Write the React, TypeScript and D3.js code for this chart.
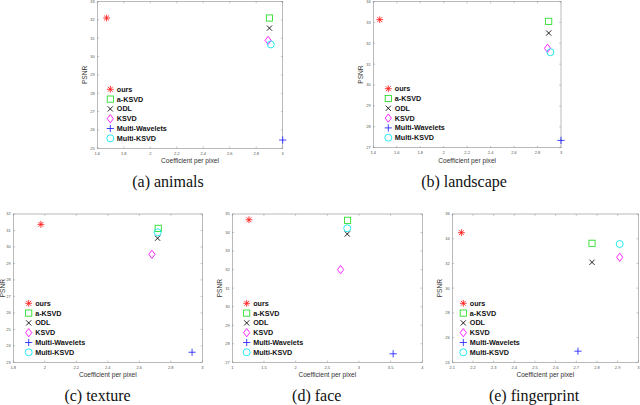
import React from "react";
import * as d3 from "d3";

const methods = ["ours", "a-KSVD", "ODL", "KSVD", "Multi-Wavelets", "Multi-KSVD"];
const methodColors = ["#ff1a1a", "#22dd22", "#000000", "#ff00ff", "#2020ff", "#00e5ee"];

const animalsX = [1.67, 2.9, 2.9, 2.89, 3.0, 2.91];
const animalsY = [32.1, 32.1, 31.55, 30.88, 25.45, 30.66];
const landscapeX = [1.455, 2.895, 2.895, 2.885, 3.0, 2.91];
const landscapeY = [33.13, 33.05, 32.49, 31.76, 27.35, 31.57];
const textureX = [1.975, 2.72, 2.716, 2.68, 2.935, 2.717];
const textureY = [31.37, 31.13, 30.53, 29.55, 23.61, 30.89];
const faceX = [1.263, 2.82, 2.815, 2.71, 3.54, 2.815];
const faceY = [34.69, 34.66, 33.92, 32.0, 27.46, 34.23];
const fingerprintX = [2.144, 2.776, 2.776, 2.91, 2.708, 2.91];
const fingerprintY = [34.49, 33.63, 32.09, 32.5, 24.9, 33.57];

const animalsXTicks = [1.6, 1.8, 2, 2.2, 2.4, 2.6, 2.8, 3];
const animalsYTicks = [25, 26, 27, 28, 29, 30, 31, 32, 33];
const landscapeXTicks = [1.4, 1.6, 1.8, 2, 2.2, 2.4, 2.6, 2.8, 3];
const landscapeYTicks = [27, 28, 29, 30, 31, 32, 33, 34];
const textureXTicks = [1.8, 2, 2.2, 2.4, 2.6, 2.8, 3];
const textureYTicks = [23, 24, 25, 26, 27, 28, 29, 30, 31, 32];
const faceXTicks = [1, 1.5, 2, 2.5, 3, 3.5, 4];
const faceYTicks = [27, 28, 29, 30, 31, 32, 33, 34, 35];
const fingerprintXTicks = [2.1, 2.2, 2.3, 2.4, 2.5, 2.6, 2.7, 2.8, 2.9, 3];
const fingerprintYTicks = [24, 26, 28, 30, 32, 34, 36];

const captions = ["(a) animals", "(b) landscape", "(c) texture", "(d) face", "(e) fingerprint"];

const panels = [
  { xs: animalsX, ys: animalsY, xt: animalsXTicks, yt: animalsYTicks, box: { l: 97.3, r: 282.7, t: 1.5, b: 148.3 }, legX: 13, capX: 168, capY: 187 },
  { xs: landscapeX, ys: landscapeY, xt: landscapeXTicks, yt: landscapeYTicks, box: { l: 373.3, r: 561, t: 1.5, b: 147.7 }, legX: 15, capX: 464, capY: 187 },
  { xs: textureX, ys: textureY, xt: textureXTicks, yt: textureYTicks, box: { l: 13.3, r: 202.3, t: 214, b: 362.3 }, legX: 15.4, capX: 97.5, capY: 400.5 },
  { xs: faceX, ys: faceY, xt: faceXTicks, yt: faceYTicks, box: { l: 232.3, r: 422.3, t: 214, b: 362.3 }, legX: 14.4, capX: 316.7, capY: 400.5 },
  { xs: fingerprintX, ys: fingerprintY, xt: fingerprintXTicks, yt: fingerprintYTicks, box: { l: 452.3, r: 638.3, t: 214, b: 362.3 }, legX: 11, capX: 534, capY: 400.5 },
];

function Marker({ i, x, y }: { i: number; x: number; y: number }) {
  const c = methodColors[i];
  const sw = 0.85;
  if (i === 0) {
    const r = 3.4;
    const d = r * 0.72;
    return (
      <g stroke={c} strokeWidth={sw} fill="none">
        <line x1={x - r} y1={y} x2={x + r} y2={y} />
        <line x1={x} y1={y - r} x2={x} y2={y + r} />
        <line x1={x - d} y1={y - d} x2={x + d} y2={y + d} />
        <line x1={x - d} y1={y + d} x2={x + d} y2={y - d} />
      </g>
    );
  }
  if (i === 1) {
    const s = 3.1;
    return <rect x={x - s} y={y - s} width={2 * s} height={2 * s} stroke={c} strokeWidth={sw} fill="none" />;
  }
  if (i === 2) {
    const d = 2.6;
    return (
      <g stroke={c} strokeWidth={sw}>
        <line x1={x - d} y1={y - d} x2={x + d} y2={y + d} />
        <line x1={x - d} y1={y + d} x2={x + d} y2={y - d} />
      </g>
    );
  }
  if (i === 3) {
    const w = 3.1, h = 4.1;
    return <path d={`M${x},${y - h}L${x + w},${y}L${x},${y + h}L${x - w},${y}Z`} stroke={c} strokeWidth={sw} fill="none" />;
  }
  if (i === 4) {
    const r = 3.6;
    return (
      <g stroke={c} strokeWidth={sw}>
        <line x1={x - r} y1={y} x2={x + r} y2={y} />
        <line x1={x} y1={y - r} x2={x} y2={y + r} />
      </g>
    );
  }
  return <circle cx={x} cy={y} r={3.5} stroke={c} strokeWidth={sw} fill="none" />;
}

function Panel({ p, idx }: { p: any; idx: number }) {
  const { l, r, t, b } = p.box;
  const xs = d3.scaleLinear().domain([p.xt[0], p.xt[p.xt.length - 1]]).range([l, r]);
  const ys = d3.scaleLinear().domain([p.yt[0], p.yt[p.yt.length - 1]]).range([b, t]);
  const fmt = d3.format("~g");
  const axisColor = "#8c8c8c";
  const tickLen = 1.8;
  const legRow0 = b - 59;
  const legStep = 9.8;
  const yLabX = Math.max(l - 10.5, 5.2);
  return (
    <g>
      <rect x={l} y={t} width={r - l} height={b - t} fill="white" stroke={axisColor} strokeWidth={0.6} />
      {p.xt.map((v: number, k: number) => (
        <g key={"x" + k}>
          <line x1={xs(v)} x2={xs(v)} y1={b} y2={b - tickLen} stroke={axisColor} strokeWidth={0.5} />
          <line x1={xs(v)} x2={xs(v)} y1={t} y2={t + tickLen} stroke={axisColor} strokeWidth={0.5} />
          <text x={xs(v)} y={b + 6.5} fontSize={4} fill="#555" textAnchor="middle" fontFamily="Liberation Sans, Arial, sans-serif">{fmt(v)}</text>
        </g>
      ))}
      {p.yt.map((v: number, k: number) => (
        <g key={"y" + k}>
          <line x1={l} x2={l + tickLen} y1={ys(v)} y2={ys(v)} stroke={axisColor} strokeWidth={0.5} />
          <line x1={r} x2={r - tickLen} y1={ys(v)} y2={ys(v)} stroke={axisColor} strokeWidth={0.5} />
          <text x={l - 2.5} y={Math.max(ys(v) + 1.4, 3.4)} fontSize={4} fill="#555" textAnchor="end" fontFamily="Liberation Sans, Arial, sans-serif">{fmt(v)}</text>
        </g>
      ))}
      <text x={(l + r) / 2} y={b + 15} fontSize={6.6} fill="#333" textAnchor="middle" fontFamily="Liberation Sans, Arial, sans-serif">Coefficient per pixel</text>
      <text transform={`translate(${yLabX},${(t + b) / 2}) rotate(-90)`} fontSize={6.6} fill="#333" textAnchor="middle" fontFamily="Liberation Sans, Arial, sans-serif">PSNR</text>
      {p.xs.map((v: number, k: number) => (
        <Marker key={"m" + k} i={k} x={xs(v)} y={ys(p.ys[k])} />
      ))}
      {methods.map((m, k) => (
        <g key={"l" + k}>
          <Marker i={k} x={l + p.legX} y={legRow0 + k * legStep} />
          <text x={l + p.legX + 6.5} y={legRow0 + k * legStep + 2.5} fontSize={7.2} fontWeight="bold" fill="#111" fontFamily="Liberation Sans, Arial, sans-serif">{m}</text>
        </g>
      ))}
      <text x={p.capX} y={p.capY} fontSize={16} fill="#111" textAnchor="middle" fontFamily="Liberation Serif, serif">{captions[idx]}</text>
    </g>
  );
}

export default function App() {
  return (
    <svg width={640} height={405} style={{ position: "absolute", left: 0, top: 0, background: "white" }}>
      <rect x={0} y={0} width={640} height={405} fill="white" />
      {panels.map((p, i) => (
        <Panel key={i} p={p} idx={i} />
      ))}
    </svg>
  );
}
